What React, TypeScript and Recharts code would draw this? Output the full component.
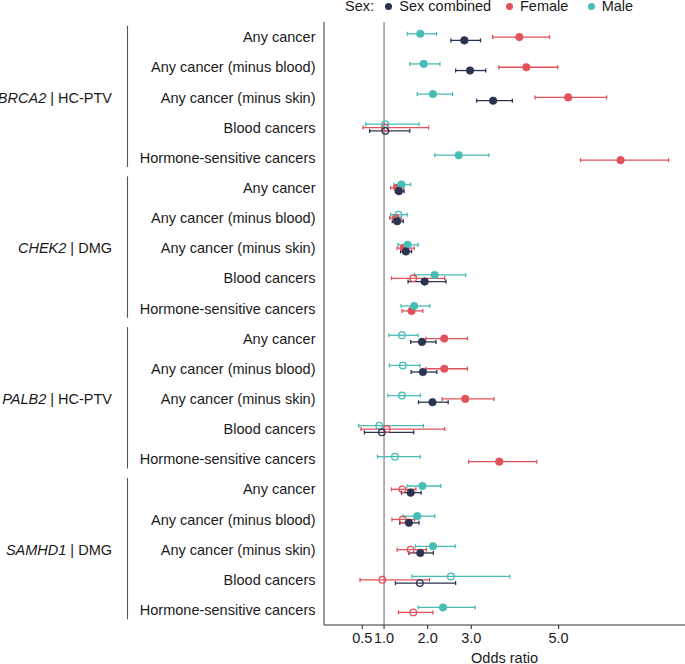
import React from "react";
import { ScatterChart, Scatter, XAxis, YAxis, ErrorBar, ReferenceLine, Legend } from "recharts";

// ---------- data ----------
const genes = ["BRCA2", "CHEK2", "PALB2", "SAMHD1"];
const variantClasses = ["HC-PTV", "DMG", "HC-PTV", "DMG"];
const phenotypes = [
  "Any cancer",
  "Any cancer (minus blood)",
  "Any cancer (minus skin)",
  "Blood cancers",
  "Hormone-sensitive cancers",
];
const xTicks = [0.5, 1, 2, 3, 5];

// rows: gene-major, phenotype-minor (20 rows)
const combinedOR = [2.84, 2.97, 3.5, 1.03, null, 1.34, 1.3, 1.5, 1.93, null, 1.87, 1.89, 2.11, 0.95, null, 1.61, 1.57, 1.83, 1.82, null];
const combinedLo = [2.53, 2.64, 3.12, 0.67, null, 1.26, 1.19, 1.38, 1.55, null, 1.61, 1.62, 1.79, 0.55, null, 1.4, 1.36, 1.57, 1.26, null];
const combinedHi = [3.21, 3.33, 3.94, 1.59, null, 1.46, 1.44, 1.63, 2.42, null, 2.19, 2.21, 2.47, 1.68, null, 1.85, 1.8, 2.13, 2.64, null];
const combinedSig = [1, 1, 1, 0, null, 1, 1, 1, 1, null, 1, 1, 1, 0, null, 1, 1, 1, 0, null];

const femaleOR = [4.1, 4.26, 5.22, 1.02, 6.42, 1.3, 1.27, 1.45, 1.67, 1.63, 2.38, 2.38, 2.86, 1.06, 3.64, 1.42, 1.43, 1.61, 0.96, 1.67];
const femaleLo = [3.49, 3.63, 4.46, 0.52, 5.5, 1.15, 1.13, 1.3, 1.17, 1.41, 1.96, 1.96, 2.33, 0.47, 2.94, 1.17, 1.18, 1.3, 0.45, 1.33];
const femaleHi = [4.79, 4.98, 6.1, 2.02, 7.52, 1.45, 1.4, 1.69, 2.39, 1.89, 2.91, 2.91, 3.52, 2.39, 4.5, 1.73, 1.7, 1.97, 2.04, 2.12];
const femaleSig = [1, 1, 1, 0, 1, 1, 1, 1, 0, 1, 1, 1, 1, 0, 1, 0, 0, 0, 0, 0];

const maleOR = [1.83, 1.91, 2.12, 1.03, 2.71, 1.4, 1.33, 1.54, 2.16, 1.69, 1.41, 1.43, 1.41, 0.89, 1.25, 1.88, 1.76, 2.12, 2.53, 2.35];
const maleLo = [1.53, 1.59, 1.76, 0.58, 2.16, 1.22, 1.15, 1.32, 1.7, 1.39, 1.11, 1.12, 1.09, 0.42, 0.85, 1.53, 1.44, 1.72, 1.64, 1.78];
const maleHi = [2.2, 2.28, 2.57, 1.8, 3.4, 1.61, 1.53, 1.78, 2.87, 2.05, 1.78, 1.82, 1.83, 1.9, 1.83, 2.3, 2.16, 2.63, 3.88, 3.09];
const maleSig = [1, 1, 1, 0, 1, 1, 0, 1, 1, 1, 0, 0, 0, 0, 0, 1, 1, 1, 0, 1];

const sexNames = ["Sex combined", "Female", "Male"];
const sexColors = ["#2c3350", "#e2525b", "#47bdb6"];

// ---------- layout ----------
const W = 685;
const H = 664;
const MARGIN_TOP = 22;
const X_AXIS_H = 39;
const Y_DOMAIN: [number, number] = [-0.5, 19.5];
const X_DOMAIN: [number, number] = [-0.376, 7.896];
const ROW_PX = (H - MARGIN_TOP - X_AXIS_H) / (Y_DOMAIN[1] - Y_DOMAIN[0]);
const DODGE = 0.33;
const FONT = "'Liberation Sans', Arial, Helvetica, sans-serif";
const FS = 14.5;

type Pt = { or: number; y: number; err: [number, number]; sig: number };

function buildSeries(or: (number | null)[], lo: (number | null)[], hi: (number | null)[], sig: (number | null)[], sex: "combined" | "female" | "male"): Pt[] {
  const out: Pt[] = [];
  for (let r = 0; r < or.length; r++) {
    const v = or[r];
    if (v == null) continue;
    const n = combinedOR[r] == null ? 2 : 3;
    let off = 0;
    if (n === 3) off = sex === "male" ? -DODGE / 3 : sex === "combined" ? DODGE / 3 : 0;
    else off = sex === "male" ? -DODGE / 4 : DODGE / 4;
    out.push({ or: v, y: r + off, err: [v - (lo[r] as number), (hi[r] as number) - v], sig: sig[r] as number });
  }
  return out;
}

const combinedData = buildSeries(combinedOR, combinedLo, combinedHi, combinedSig, "combined");
const femaleData = buildSeries(femaleOR, femaleLo, femaleHi, femaleSig, "female");
const maleData = buildSeries(maleOR, maleLo, maleHi, maleSig, "male");

const rowTicks = Array.from({ length: genes.length * phenotypes.length }, (_, i) => i);

const RowTick = (props: any) => {
  const { x, y, payload } = props;
  const r = payload.value as number;
  const p = r % 5;
  const g = Math.floor(r / 5);
  return (
    <g>
      <text x={x} y={y} dy="0.355em" textAnchor="end" fontSize={FS} fill="#1a1a1a" fontFamily={FONT}>
        {phenotypes[p]}
      </text>
      {p === 2 && (
        <g>
          <text x={x - 203.5} y={y} dy="0.355em" textAnchor="end" fontSize={FS} fill="#1a1a1a" fontFamily={FONT}>
            <tspan fontStyle="italic">{genes[g]}</tspan>
            <tspan>{" | " + variantClasses[g]}</tspan>
          </text>
          <line
            x1={x - 188}
            x2={x - 188}
            y1={y - (2 + 0.38) * ROW_PX}
            y2={y + (2 + 0.31) * ROW_PX}
            stroke="#555"
            strokeWidth={1.1}
          />
        </g>
      )}
    </g>
  );
};

const makePoint = (color: string) => (props: any) => {
  const { cx, cy, payload } = props;
  if (cx == null || cy == null) return <g />;
  return payload.sig ? (
    <circle cx={cx} cy={cy} r={3.8} fill={color} stroke={color} strokeWidth={0.6} />
  ) : (
    <circle cx={cx} cy={cy} r={3.3} fill="none" stroke={color} strokeWidth={1.3} />
  );
};

const emptyShape = () => <g />;

const legendItems = [
  { dot: 388.3, text: 399.3, idx: 0 },
  { dot: 509.3, text: 520, idx: 1 },
  { dot: 591.7, text: 601.7, idx: 2 },
];

const renderLegend = () => (
  <div style={{ position: "relative", width: W, height: 16, fontSize: FS, color: "#1a1a1a", fontFamily: FONT }}>
    <span style={{ position: "absolute", left: 345, top: 0, lineHeight: "13px", whiteSpace: "nowrap" }}>Sex:</span>
    {legendItems.map((it) => (
      <React.Fragment key={it.idx}>
        <span
          style={{
            position: "absolute",
            left: it.dot - 3.6,
            top: 2.6,
            width: 7.2,
            height: 7.2,
            borderRadius: "50%",
            background: sexColors[it.idx],
          }}
        />
        <span style={{ position: "absolute", left: it.text, top: 0, lineHeight: "13px", whiteSpace: "nowrap" }}>
          {sexNames[it.idx]}
        </span>
      </React.Fragment>
    ))}
  </div>
);

const seriesOrder = [
  { data: femaleData, color: sexColors[1], name: sexNames[1] },
  { data: maleData, color: sexColors[2], name: sexNames[2] },
  { data: combinedData, color: sexColors[0], name: sexNames[0] },
];

export default function App() {
  return (
    <div style={{ position: "absolute", left: 0, top: 0, width: W, height: H, background: "#fff", fontFamily: FONT }}>
      <ScatterChart width={W} height={H} margin={{ top: MARGIN_TOP, right: 0, bottom: 0, left: 0 }}>
        <XAxis
          type="number"
          dataKey="or"
          domain={X_DOMAIN}
          ticks={xTicks}
          interval={0}
          allowDataOverflow
          tickFormatter={(v: number) => v.toFixed(1)}
          height={X_AXIS_H}
          tickSize={4}
          tickMargin={4}
          axisLine={{ stroke: "#333", strokeWidth: 1.1 }}
          tickLine={{ stroke: "#333", strokeWidth: 1.1 }}
          tick={{ fill: "#1a1a1a", fontSize: FS, fontFamily: FONT }}
          label={{ value: "Odds ratio", position: "insideBottom", offset: 1.5, fill: "#1a1a1a", fontSize: FS, fontFamily: FONT }}
        />
        <YAxis
          type="number"
          dataKey="y"
          domain={Y_DOMAIN}
          reversed
          allowDataOverflow
          ticks={rowTicks}
          interval={0}
          width={324}
          tickLine={false}
          tickSize={0}
          tickMargin={8.5}
          axisLine={{ stroke: "#444", strokeWidth: 1.1 }}
          tick={<RowTick />}
        />
        <ReferenceLine x={1} stroke="#666" strokeWidth={1} ifOverflow="extendDomain" />
        {seriesOrder.map((s) => (
          <Scatter
            key={"eb-" + s.name}
            data={s.data}
            shape={emptyShape}
            legendType="none"
            isAnimationActive={false}
          >
            <ErrorBar dataKey="err" direction="x" width={2} stroke={s.color} strokeWidth={1.3} isAnimationActive={false} />
          </Scatter>
        ))}
        {seriesOrder.map((s) => (
          <Scatter
            key={"pt-" + s.name}
            name={s.name}
            data={s.data}
            fill={s.color}
            shape={makePoint(s.color)}
            isAnimationActive={false}
          />
        ))}
        <Legend
          layout="horizontal"
          verticalAlign="middle"
          align="center"
          wrapperStyle={{ position: "absolute", top: 0, left: 0, width: W, height: 16 }}
          content={renderLegend}
        />
      </ScatterChart>
    </div>
  );
}
